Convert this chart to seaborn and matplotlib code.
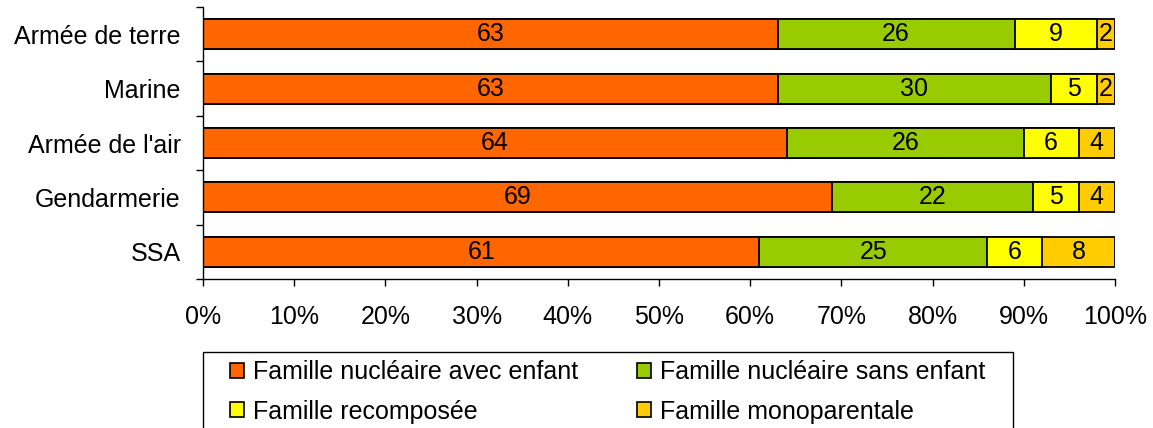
import numpy as np
import pandas as pd
import matplotlib
matplotlib.use("Agg")
import matplotlib.pyplot as plt
import seaborn as sns
from matplotlib.patches import Patch, Rectangle

# data
armees = ["Armée de terre", "Marine", "Armée de l'air", "Gendarmerie", "SSA"]
avec_enfant = [63, 63, 64, 69, 61]
sans_enfant = [26, 30, 26, 22, 25]
recomposee = [9, 5, 6, 5, 6]
monoparentale = [2, 2, 4, 4, 8]
series_names = ["Famille nucléaire avec enfant", "Famille nucléaire sans enfant",
                "Famille recomposée", "Famille monoparentale"]
colors = ["#FF6600", "#99CC00", "#FFFF00", "#FFCC00"]
xticks = [0, 10, 20, 30, 40, 50, 60, 70, 80, 90, 100]

sns.set_theme(style="white")
plt.rcParams['font.family'] = ['Liberation Sans', 'DejaVu Sans']
plt.rcParams['text.color'] = 'black'
plt.rcParams['xtick.color'] = 'black'
plt.rcParams['ytick.color'] = 'black'
FS = 18

df = pd.DataFrame({"armee": armees, "s1": avec_enfant, "s2": sans_enfant,
                   "s3": recomposee, "s4": monoparentale})
cols = ["s1", "s2", "s3", "s4"]
cum = df[cols].cumsum(axis=1)

W, H = 1153, 428
fig = plt.figure(figsize=(W / 100, H / 100), dpi=100)
ax = fig.add_axes([203 / W, 1 - 279 / H, 912 / W, 272 / H])

# stacked bars: draw cumulative totals from the longest to the shortest
for i in range(3, -1, -1):
    sns.barplot(x=cum[cols[i]], y=df["armee"], orient="h", color=colors[i],
                saturation=1, width=0.55, edgecolor="black", linewidth=1.3, ax=ax)

# value labels at centre of each segment
for i, c in enumerate(cols):
    start = cum[c] - df[c]
    for j in range(len(df)):
        ax.text(start[j] + df[c][j] / 2, j, str(df[c][j]), ha="center", va="center",
                fontsize=FS, color="black")

ax.set_xlim(0, 100)
ax.set_ylim(len(armees) - 0.5, -0.5)
ax.set_xticks(xticks)
ax.set_xticklabels([f"{v}%" for v in xticks], fontsize=FS)
ax.set_yticks(range(len(armees)))
ax.set_yticklabels(armees, fontsize=FS)
ax.set_yticks(np.arange(-0.5, len(armees), 1), minor=True)
ax.tick_params(axis="y", which="major", length=0, pad=16)
ax.tick_params(axis="y", which="minor", length=5, width=1, color="black", direction="out", left=True)
ax.tick_params(axis="x", length=5, width=1, color="black", direction="out", bottom=True, pad=14)
ax.set_xlabel("")
ax.set_ylabel("")
sns.despine(ax=ax, top=True, right=True)
for s in ["left", "bottom"]:
    ax.spines[s].set_color("black")
    ax.spines[s].set_linewidth(1)

# legend frame (runs off the bottom of the picture)
fig.add_artist(Rectangle((203 / W, -0.05), 810 / W, 0.05 + (H - 352) / H,
                         transform=fig.transFigure, facecolor="white",
                         edgecolor="black", linewidth=1))

order = [0, 2, 1, 3]  # row-wise reading order
handles = [Patch(facecolor=colors[i], edgecolor="black", linewidth=1.2) for i in order]
labels = [series_names[i] for i in order]
leg = fig.legend(handles, labels, loc="upper left",
                 bbox_to_anchor=(230 / W, 1 - 360 / H), ncol=2, fontsize=FS,
                 frameon=False, handlelength=0.56, handleheight=0.56,
                 handletextpad=0.36, columnspacing=2.35, labelspacing=0.62,
                 borderpad=0, borderaxespad=0)

fig.savefig("out.png", dpi=100)
